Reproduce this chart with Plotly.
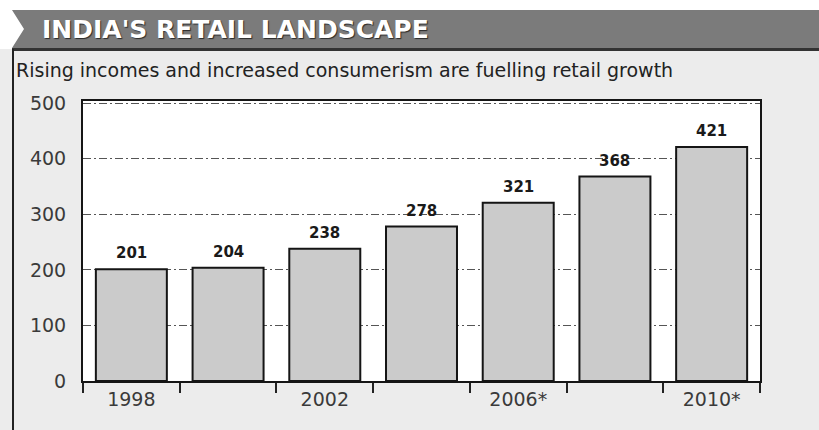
import plotly.graph_objects as go

# Retail market size by year (every second year; * = projected)
years = ["1998", "2000", "2002", "2004", "2006*", "2008*", "2010*"]
values = [201, 204, 238, 278, 321, 368, 421]
shown_labels = ["1998", "", "2002", "", "2006*", "", "2010*"]
y_ticks = [0, 100, 200, 300, 400, 500]

title_text = "INDIA'S RETAIL LANDSCAPE"
subtitle_text = "Rising incomes and increased consumerism are fuelling retail growth"

W, H = 819, 430
M_L, M_R, M_T, M_B = 83, 59, 101, 49
PW, PH = W - M_L - M_R, H - M_T - M_B


def px(x):
    return (x - M_L) / PW


def py(y):
    return (H - M_B - y) / PH


FONT = "DejaVu Sans"

fig = go.Figure()
fig.add_trace(go.Bar(
    x=years,
    y=values,
    marker=dict(color="#cbcbcb", line=dict(color="#151515", width=2)),
    hoverinfo="x+y",
))

# value labels above each bar (x given as category index)
for i, v in enumerate(values):
    fig.add_annotation(
        x=i, y=v, text=str(v), showarrow=False,
        xref="x", yref="y", yanchor="bottom", yshift=5,
        font=dict(family=FONT, size=15, color="#1a1a1a", weight="bold"),
    )

# header band with notch on the left
fig.add_shape(type="rect", xref="paper", yref="paper",
              x0=px(0), x1=px(W), y0=py(0), y1=py(49),
              fillcolor="white", line_width=0, layer="above")
band = "M {a},{b} L {c},{b} L {c},{d} L {a},{d} L {e},{f} Z".format(
    a=px(12), b=py(10), c=px(W), d=py(48), e=px(24), f=py(29))
fig.add_shape(type="path", path=band, xref="paper", yref="paper",
              fillcolor="#7b7b7b", line_width=0, layer="above")
fig.add_shape(type="line", xref="paper", yref="paper",
              x0=px(12), x1=px(W), y0=py(49.5), y1=py(49.5),
              line=dict(color="#333333", width=3), layer="above")
fig.add_shape(type="line", xref="paper", yref="paper",
              x0=px(13), x1=px(13), y0=py(49), y1=py(H),
              line=dict(color="#222222", width=2), layer="above")

fig.add_annotation(
    x=px(40), y=py(29), xref="paper", yref="paper",
    xanchor="left", yanchor="middle", showarrow=False,
    text=title_text,
    font=dict(family=FONT, size=25, color="white", weight="bold",
              shadow="1px 1px 1px #2a2a2a"),
)
fig.add_annotation(
    x=px(14), y=py(70), xref="paper", yref="paper",
    xanchor="left", yanchor="middle", showarrow=False,
    text=subtitle_text,
    font=dict(family=FONT, size=19, color="#222222"),
)

fig.update_layout(
    width=W, height=H,
    margin=dict(l=M_L, r=M_R, t=M_T, b=M_B, autoexpand=False),
    paper_bgcolor="#ececec",
    plot_bgcolor="white",
    bargap=0.266,
    showlegend=False,
    font=dict(family=FONT, color="#333333"),
)
fig.update_xaxes(
    type="category", range=[-0.5, len(years) - 0.5], automargin=False,
    tickmode="array", tickvals=years, ticktext=shown_labels, tickangle=0,
    tickson="boundaries", ticks="outside", ticklen=10, tickwidth=1.5,
    tickcolor="#222222",
    showline=True, linecolor="#151515", linewidth=2, mirror=True,
    tickfont=dict(family=FONT, size=19, color="#3a3a3a"),
    showgrid=False,
)
fig.update_yaxes(
    range=[0, 504], automargin=False,
    tickmode="array", tickvals=y_ticks,
    ticks="outside", ticklen=11, tickcolor="rgba(0,0,0,0)",
    showline=True, linecolor="#151515", linewidth=2, mirror=True,
    showgrid=True, gridcolor="#555555", gridwidth=1,
    griddash="8px,3px,2px,3px",
    zeroline=False,
    tickfont=dict(family=FONT, size=19, color="#3a3a3a"),
)

fig.write_html("out.html")
